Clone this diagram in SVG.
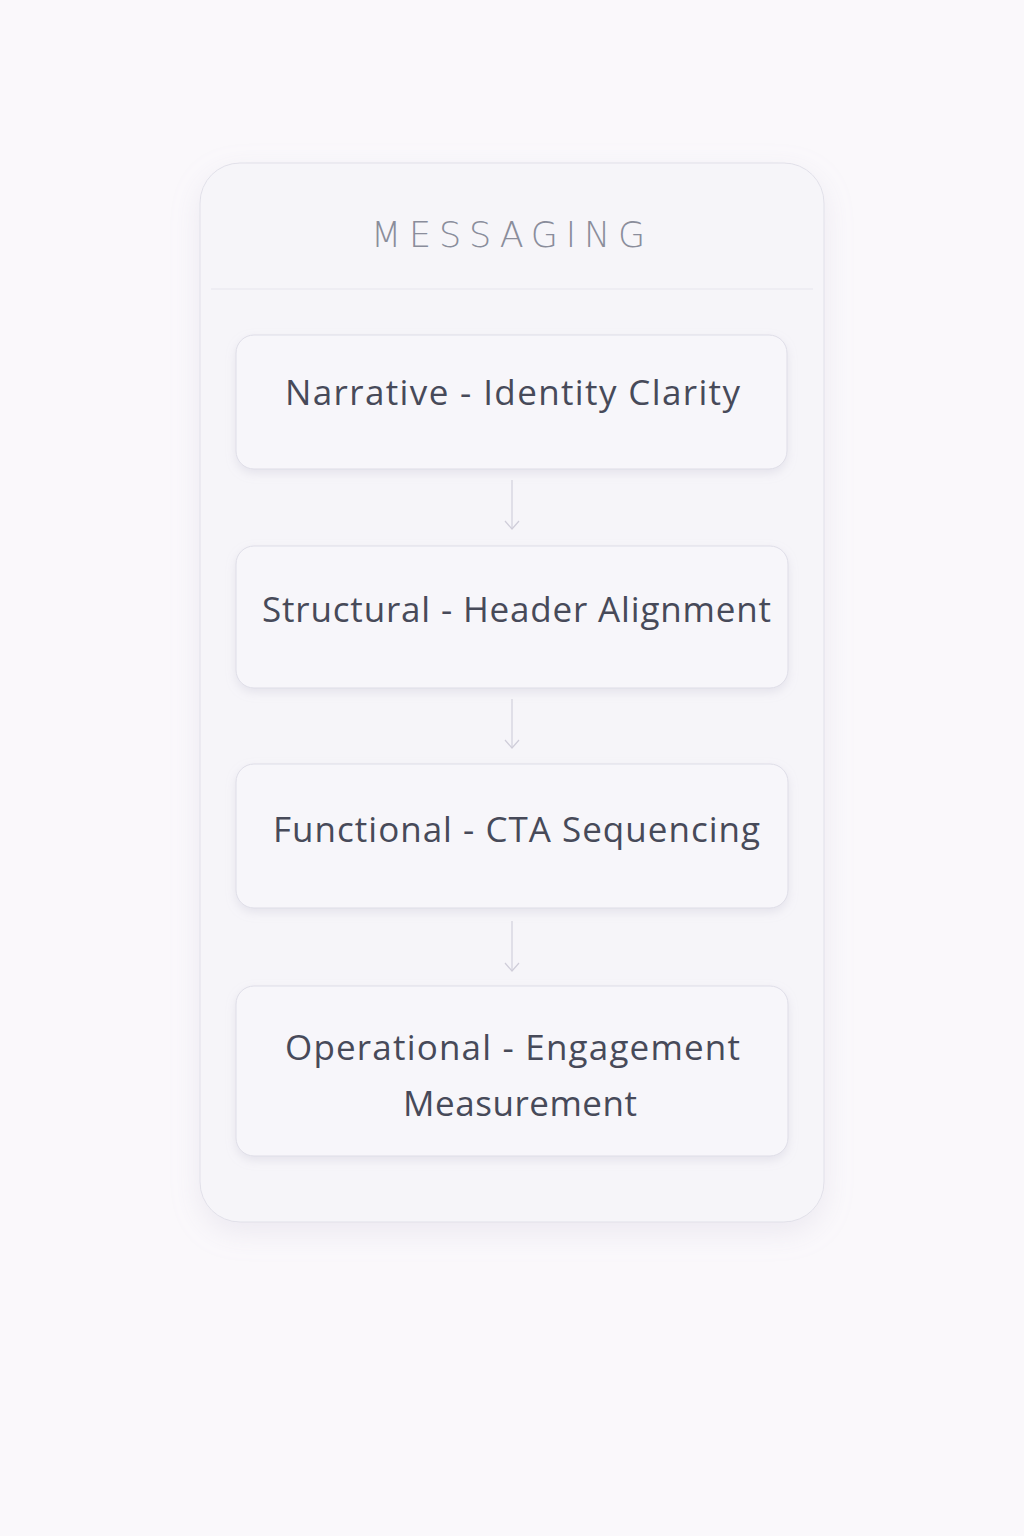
<svg xmlns="http://www.w3.org/2000/svg" width="1024" height="1536" viewBox="0 0 1024 1536">
<defs>
<filter id="sh" x="-20%" y="-20%" width="140%" height="140%">
<feDropShadow dx="0" dy="10" stdDeviation="14" flood-color="#b8b4cc" flood-opacity="0.22"/>
</filter>
<filter id="nsh" x="-10%" y="-20%" width="120%" height="150%">
<feDropShadow dx="0" dy="4" stdDeviation="5" flood-color="#b0adc4" flood-opacity="0.25"/>
</filter>
<marker id="arr" markerWidth="10" markerHeight="16" refX="9" refY="8" orient="auto" markerUnits="userSpaceOnUse" viewBox="0 0 10 16">
<path d="M1 1 L9 8 L1 15" fill="none" stroke="#cfcdd9" stroke-width="1.2"/>
</marker>
<style>
.node rect{fill:#f7f6fa;stroke:#dedde7;stroke-width:1;}
.lbl{font-family:"Open Sans",Lato,sans-serif;font-size:35px;fill:#474a59;text-anchor:middle;}
.conn line{stroke:#d2d0dc;stroke-width:1.2;fill:none;}
</style>
</defs>
<rect x="0" y="0" width="1024" height="1536" fill="#faf8fb"/>
<g id="container">
<rect x="200" y="163" width="624" height="1059" rx="40" fill="#f6f5f9" stroke="#e1e0e9" stroke-width="1" filter="url(#sh)"/>
<line x1="211" y1="289" x2="813" y2="289" stroke="#e6e5ed" stroke-width="1.2"/>
<text x="508" y="247" font-family="'DejaVu Sans','Open Sans',sans-serif" font-size="35" font-weight="200" textLength="274" lengthAdjust="spacing" fill="#8a8d9b" text-anchor="middle">MESSAGING</text>
</g>
<g id="node1" class="node">
<rect x="236" y="335" width="551" height="134" rx="18" filter="url(#nsh)"/>
<text class="lbl" x="512.5" y="405" textLength="455" lengthAdjust="spacing">Narrative - Identity Clarity</text>
</g>
<g id="node2" class="node">
<rect x="236" y="546" width="552" height="142" rx="18" filter="url(#nsh)"/>
<text class="lbl" x="516.5" y="622" textLength="509" lengthAdjust="spacing">Structural - Header Alignment</text>
</g>
<g id="node3" class="node">
<rect x="236" y="764" width="552" height="144" rx="18" filter="url(#nsh)"/>
<text class="lbl" x="516.5" y="842" textLength="487" lengthAdjust="spacing">Functional - CTA Sequencing</text>
</g>
<g id="node4" class="node">
<rect x="236" y="986" width="552" height="170" rx="18" filter="url(#nsh)"/>
<text class="lbl" x="512.5" y="1060" textLength="455" lengthAdjust="spacing">Operational - Engagement</text>
<text class="lbl" x="520" y="1116" textLength="234" lengthAdjust="spacing">Measurement</text>
</g>
<g id="connectors" class="conn">
<line x1="512" y1="480" x2="512" y2="529" marker-end="url(#arr)"/>
<line x1="512" y1="699" x2="512" y2="748" marker-end="url(#arr)"/>
<line x1="512" y1="921" x2="512" y2="971" marker-end="url(#arr)"/>
</g>
</svg>
